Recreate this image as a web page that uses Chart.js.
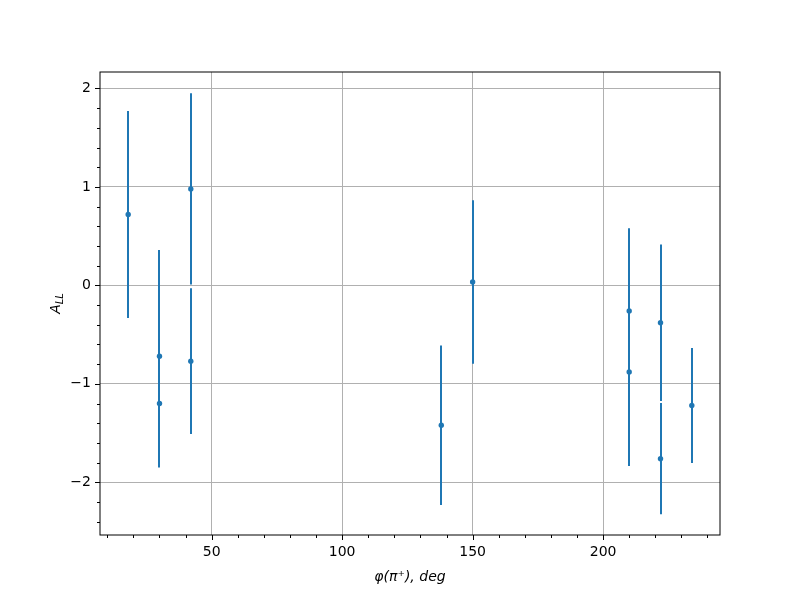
<!DOCTYPE html>
<html>
<head>
<meta charset="utf-8">
<script src="https://cdn.jsdelivr.net/npm/chart.js@4.4.0/dist/chart.umd.min.js"></script>
<style>
html, body { margin: 0; padding: 0; background: #fff; }
#c { display: block; }
</style>
</head>
<body>
<canvas id="c" width="800" height="600"></canvas>
<script>
'use strict'

// phi(pi+) in degrees, asymmetry A_LL and its error
const phi = [18, 30, 30, 42, 42, 138, 150, 210, 210, 222, 222, 234];
const asym = [0.72, -0.72, -1.20, 0.98, -0.77, -1.42, 0.035, -0.26, -0.88, -0.38, -1.76, -1.22];
const asymErr = [1.05, 1.08, 0.65, 0.97, 0.74, 0.81, 0.83, 0.84, 0.955, 0.795, 0.565, 0.585];

const xTicks = [50, 100, 150, 200];
const yTicks = [-2, -1, 0, 1, 2];

const blue = '#1f77b4';
const font = "'DejaVu Sans', sans-serif";

let xMinor = [];
for (let v = 10; v <= 240; v += 10) xMinor.push(v);
let yMinor = [];
for (let v = -24; v <= 20; v += 2) yMinor.push(v / 10);

function fmt(v) {
  return v < 0 ? '\u2212' + Math.abs(v) : String(v);
}

const extras = {
  id: 'extras',
  beforeDatasetsDraw(chart) {
    const ctx = chart.ctx;
    const xs = chart.scales.x, ys = chart.scales.y;
    ctx.save();
    ctx.strokeStyle = blue;
    ctx.lineWidth = 2;
    for (let i = 0; i < phi.length; i++) {
      // snap to whole pixels so overlapping bars stay crisp
      const x = Math.round(xs.getPixelForValue(phi[i]));
      ctx.beginPath();
      ctx.moveTo(x, ys.getPixelForValue(asym[i] + asymErr[i]));
      ctx.lineTo(x, ys.getPixelForValue(asym[i] - asymErr[i]));
      ctx.stroke();
    }
    ctx.restore();
  },
  afterDraw(chart) {
    const ctx = chart.ctx;
    const a = chart.chartArea;
    const xs = chart.scales.x, ys = chart.scales.y;
    ctx.save();
    ctx.strokeStyle = '#000';
    ctx.lineWidth = 1;
    ctx.strokeRect(a.left, a.top, a.right - a.left, a.bottom - a.top);

    // tick marks
    ctx.beginPath();
    xTicks.forEach(v => {
      const x = Math.round(xs.getPixelForValue(v)) + 0.5;
      ctx.moveTo(x, a.bottom); ctx.lineTo(x, a.bottom + 5);
    });
    xMinor.forEach(v => {
      if (v % 50 === 0) return;
      const x = Math.round(xs.getPixelForValue(v)) + 0.5;
      ctx.moveTo(x, a.bottom); ctx.lineTo(x, a.bottom + 3);
    });
    yTicks.forEach(v => {
      const y = Math.round(ys.getPixelForValue(v)) + 0.5;
      ctx.moveTo(a.left, y); ctx.lineTo(a.left - 5, y);
    });
    yMinor.forEach(v => {
      if (Math.abs(v - Math.round(v)) < 1e-6) return;
      const y = Math.round(ys.getPixelForValue(v)) + 0.5;
      ctx.moveTo(a.left, y); ctx.lineTo(a.left - 3, y);
    });
    ctx.stroke();

    // axis titles
    ctx.fillStyle = '#000';
    ctx.font = 'italic 14px ' + font;
    ctx.textAlign = 'center';
    ctx.textBaseline = 'alphabetic';
    ctx.fillText('\u03C6(\u03C0\u207A), deg', (a.left + a.right) / 2, 581);

    ctx.translate(60, (a.top + a.bottom) / 2);
    ctx.rotate(-Math.PI / 2);
    ctx.textAlign = 'left';
    ctx.font = 'italic 14px ' + font;
    const wA = ctx.measureText('A').width;
    ctx.font = 'italic 10px ' + font;
    const wL = ctx.measureText('LL').width;
    const x0 = -(wA + wL) / 2;
    ctx.font = 'italic 14px ' + font;
    ctx.fillText('A', x0, 0);
    ctx.font = 'italic 10px ' + font;
    ctx.fillText('LL', x0 + wA, 3);
    ctx.restore();
  }
};

const ctx = document.getElementById('c').getContext('2d');
const chart = new Chart(ctx, {
  type: 'scatter',
  data: {
    datasets: [{
      data: phi.map((v, i) => ({ x: v, y: asym[i] })),
      backgroundColor: blue,
      borderColor: blue,
      pointRadius: 2.7,
      pointHoverRadius: 2.7,
      borderWidth: 0
    }]
  },
  options: {
    responsive: false,
    animation: false,
    events: [],
    layout: { padding: { left: 0, top: 72, right: 80, bottom: 0 } },
    plugins: {
      legend: { display: false },
      tooltip: { enabled: false }
    },
    scales: {
      x: {
        type: 'linear',
        min: 7.2,
        max: 244.8,
        afterBuildTicks: s => { s.ticks = xTicks.map(v => ({ value: v })); },
        afterFit: s => { s.height = 65; },
        grid: { color: '#b0b0b0', lineWidth: 1, drawTicks: false },
        border: { display: false },
        ticks: {
          padding: 9,
          color: '#000',
          font: { family: font, size: 14 },
          maxRotation: 0,
          callback: v => fmt(v)
        }
      },
      y: {
        type: 'linear',
        min: -2.535,
        max: 2.167,
        afterBuildTicks: s => { s.ticks = yTicks.map(v => ({ value: v })); },
        afterFit: s => { s.width = 100; },
        grid: { color: '#b0b0b0', lineWidth: 1, drawTicks: false },
        border: { display: false },
        ticks: {
          padding: 9,
          color: '#000',
          font: { family: font, size: 14 },
          callback: v => fmt(v)
        }
      }
    }
  },
  plugins: [extras]
});
</script>
</body>
</html>
